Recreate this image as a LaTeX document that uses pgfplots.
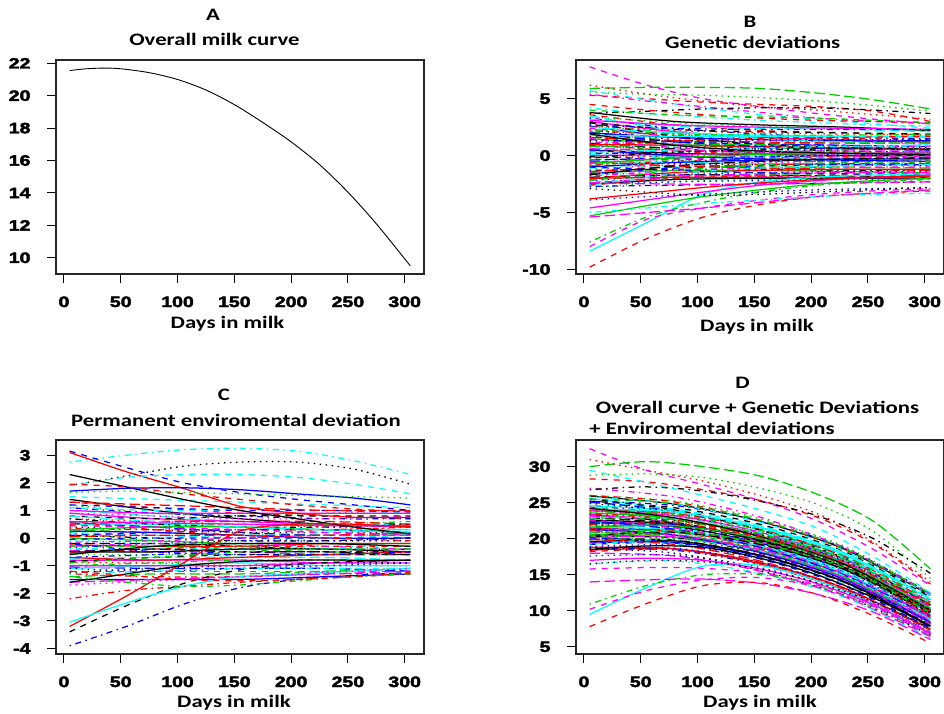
\documentclass[border=0pt]{standalone}
\usepackage{pgfplots}
\pgfplotsset{compat=1.18}
\usepackage{fontspec}
\newfontfamily\ttlfam[FakeStretch=1.3]{Carlito}
\newfontfamily\tckfam[FakeStretch=1.3,FakeBold=3]{Liberation Sans}
\newcommand\titlefont{\ttlfam\bfseries\fontsize{17.5}{20}\selectfont}
\newcommand\tickfont{\tckfam\bfseries\fontsize{15}{15}\selectfont}
\definecolor{Rk}{HTML}{000000}
\definecolor{Rr}{HTML}{FF0000}
\definecolor{Rg}{HTML}{00CD00}
\definecolor{Rb}{HTML}{0000FF}
\definecolor{Rc}{HTML}{00FFFF}
\definecolor{Rm}{HTML}{FF00FF}
\tikzset{
 ls1/.style={solid},
 ls2/.style={dash pattern=on 6pt off 6pt},
 ls3/.style={dash pattern=on 1.5pt off 4.5pt},
 ls4/.style={dash pattern=on 1.5pt off 4.5pt on 6pt off 4.5pt},
 ls5/.style={dash pattern=on 10.5pt off 4.5pt},
}
\pgfplotscreateplotcyclelist{Rlist}{%
Rk,ls1\\Rr,ls2\\Rg,ls3\\Rb,ls4\\Rc,ls5\\Rm,ls1\\%
Rk,ls2\\Rr,ls3\\Rg,ls4\\Rb,ls5\\Rc,ls1\\Rm,ls2\\%
Rk,ls3\\Rr,ls4\\Rg,ls5\\Rb,ls1\\Rc,ls2\\Rm,ls3\\%
Rk,ls4\\Rr,ls5\\Rg,ls1\\Rb,ls2\\Rc,ls3\\Rm,ls4\\%
Rk,ls5\\Rr,ls1\\Rg,ls2\\Rb,ls3\\Rc,ls4\\Rm,ls5\\%
}
% band line (cycle list style), x = 5, 80, 155, 230, 305
\newcommand\Lb[5]{\addplot coordinates {(5,#1)(80,#2)(155,#3)(230,#4)(305,#5)};}
% styled line, x = 5, 80, 155, 230, 305
\newcommand\Lf[7]{\addplot[#1,#2] coordinates {(5,#3)(80,#4)(155,#5)(230,#6)(305,#7)};}
% styled line, x = 5, 55, 105, 155, 205, 255, 305
\newcommand\Ls[9]{\addplot[#1,#2] coordinates {(5,#3)(55,#4)(105,#5)(155,#6)(205,#7)(255,#8)(305,#9)};}
\pgfplotsset{
 Rax/.style={scale only axis, width=368pt, height=214pt,
  xmin=-7, xmax=317, xtick={0,50,100,150,200,250,300},
  xticklabels={0,50,100,150,200,250,300},
  axis line style={line width=1.3pt, black!85},
  tick style={line width=1pt, black},
  major tick length=9pt, tick align=outside,
  xtick pos=bottom, ytick pos=left,
  ticklabel style={font=\tickfont},
  yticklabel style={xshift=-13pt},
  xticklabel style={yshift=-10pt},
  no markers, cycle list name=Rlist,
  every axis plot/.append style={line width=1.25pt, smooth}},
}
\begin{document}
\begin{tikzpicture}
\useasboundingbox (0,0) rectangle (944pt,-713pt);
% ---------------- A ----------------
\begin{axis}[Rax, at={(56pt,-274pt)}, anchor=south west,
  ymin=9.0, ymax=22.2, ytick={10,12,14,16,18,20,22},
  yticklabels={10,12,14,16,18,20,22}]
\addplot[black, solid, line width=0.9pt] coordinates {(5,21.55)(20,21.66)(35,21.7)(50,21.66)(75,21.42)(100,21.0)(125,20.35)(150,19.45)(175,18.35)(200,17.15)(225,15.75)(250,14.05)(275,12.1)(305,9.5)};
\end{axis}
% ---------------- B ----------------
\begin{axis}[Rax, at={(576pt,-274pt)}, anchor=south west,
  ymin=-10.4, ymax=8.4, ytick={-10,-5,0,5},
  yticklabels={-10,-5,0,5}]
\Lb{3.8}{3.0}{2.7}{2.5}{2.2}
\Lb{3.6}{2.7}{2.2}{2.0}{1.8}
\Lb{3.4}{2.9}{2.6}{2.4}{2.2}
\Lb{3.3}{2.4}{1.9}{1.6}{1.5}
\Lb{3.2}{2.6}{2.4}{2.3}{2.1}
\Lb{3.0}{2.1}{1.6}{1.4}{1.2}
\Lb{2.9}{2.3}{2.1}{2.0}{1.9}
\Lb{2.8}{1.9}{1.5}{1.3}{1.1}
\Lb{2.7}{2.0}{1.7}{1.6}{1.6}
\Lb{2.6}{1.6}{1.1}{0.9}{0.8}
\Lb{2.5}{2.0}{1.8}{1.7}{1.7}
\Lb{2.4}{1.7}{1.4}{1.3}{1.2}
\Lb{2.3}{1.4}{1.0}{0.8}{0.7}
\Lb{2.2}{1.8}{1.6}{1.5}{1.4}
\Lb{2.1}{1.3}{0.9}{0.7}{0.6}
\Lb{2.0}{1.6}{1.4}{1.3}{1.3}
\Lb{1.9}{1.2}{0.9}{0.8}{0.8}
\Lb{1.8}{1.5}{1.3}{1.2}{1.0}
\Lb{1.7}{1.0}{0.6}{0.4}{0.3}
\Lb{1.6}{1.3}{1.2}{1.1}{1.1}
\Lb{1.5}{1.0}{0.7}{0.6}{0.5}
\Lb{1.4}{1.2}{1.0}{0.9}{0.9}
\Lb{1.3}{0.8}{0.5}{0.3}{0.2}
\Lb{1.2}{1.0}{0.9}{0.9}{0.8}
\Lb{1.1}{0.6}{0.3}{0.2}{0.1}
\Lb{1.0}{0.9}{0.8}{0.7}{0.6}
\Lb{0.9}{0.5}{0.3}{0.2}{0.2}
\Lb{0.8}{0.7}{0.6}{0.6}{0.5}
\Lb{0.7}{0.3}{0.0}{-0.1}{-0.2}
\Lb{0.6}{0.5}{0.4}{0.4}{0.4}
\Lb{0.5}{0.2}{0.1}{0.0}{0.0}
\Lb{0.4}{0.4}{0.3}{0.3}{0.3}
\Lb{0.3}{0.0}{-0.2}{-0.3}{-0.4}
\Lb{0.2}{0.2}{0.2}{0.1}{0.1}
\Lb{0.1}{-0.1}{-0.2}{-0.2}{-0.2}
\Lb{0.0}{0.1}{0.2}{0.2}{0.3}
\Lb{-0.1}{-0.3}{-0.4}{-0.5}{-0.5}
\Lb{-0.2}{0.0}{0.1}{0.1}{0.1}
\Lb{-0.3}{-0.4}{-0.5}{-0.5}{-0.6}
\Lb{-0.4}{-0.2}{-0.1}{0.0}{0.0}
\Lb{-0.5}{-0.6}{-0.7}{-0.8}{-0.8}
\Lb{-0.6}{-0.3}{-0.2}{-0.1}{-0.1}
\Lb{-0.7}{-0.7}{-0.8}{-0.8}{-0.9}
\Lb{-0.8}{-0.5}{-0.3}{-0.3}{-0.2}
\Lb{-0.9}{-0.9}{-1.0}{-1.0}{-1.1}
\Lb{-1.0}{-0.6}{-0.4}{-0.3}{-0.3}
\Lb{-1.1}{-1.0}{-1.1}{-1.2}{-1.2}
\Lb{-1.2}{-0.8}{-0.6}{-0.5}{-0.5}
\Lb{-1.3}{-1.2}{-1.2}{-1.3}{-1.3}
\Lb{-1.4}{-1.0}{-0.8}{-0.7}{-0.7}
\Lb{-1.5}{-1.3}{-1.3}{-1.4}{-1.5}
\Lb{-1.6}{-1.1}{-0.9}{-0.8}{-0.8}
\Lb{-1.7}{-1.5}{-1.5}{-1.6}{-1.6}
\Lb{-1.8}{-1.3}{-1.1}{-1.0}{-1.0}
\Lb{-1.9}{-1.7}{-1.7}{-1.8}{-1.9}
\Lb{-2.0}{-1.5}{-1.3}{-1.2}{-1.2}
\Lb{-2.1}{-1.8}{-1.7}{-1.7}{-1.7}
\Lb{-2.2}{-1.7}{-1.5}{-1.4}{-1.4}
\Lb{-2.3}{-2.0}{-1.9}{-1.9}{-1.9}
\Lb{-2.4}{-1.9}{-1.6}{-1.5}{-1.5}
\Lb{-2.5}{-2.1}{-2.0}{-2.0}{-2.0}
\Lb{-2.6}{-2.0}{-1.8}{-1.7}{-1.6}
\Lb{-2.8}{-2.3}{-2.1}{-2.0}{-1.9}
\Lb{-2.7}{-2.6}{-2.5}{-2.4}{-2.3}
\Lb{3.5}{2.2}{1.5}{1.2}{1.0}
\Lb{3.1}{2.7}{2.5}{2.4}{2.3}
\Lb{2.9}{1.7}{1.0}{0.7}{0.6}
\Lb{2.6}{2.2}{2.0}{1.9}{1.8}
\Lb{2.3}{1.9}{1.8}{1.8}{1.9}
\Lb{2.0}{1.2}{0.8}{0.6}{0.5}
\Lb{1.8}{1.7}{1.7}{1.7}{1.6}
\Lb{1.5}{0.7}{0.3}{0.1}{0.0}
\Lb{1.3}{1.3}{1.4}{1.4}{1.4}
\Lb{1.0}{0.4}{0.1}{-0.1}{-0.2}
\Lb{0.8}{0.9}{1.0}{1.1}{1.1}
\Lb{0.5}{0.0}{-0.3}{-0.4}{-0.5}
\Lb{0.3}{0.5}{0.7}{0.8}{0.9}
\Lb{0.0}{-0.4}{-0.6}{-0.7}{-0.7}
\Lb{-0.2}{0.3}{0.5}{0.6}{0.6}
\Lb{-0.5}{-0.9}{-1.1}{-1.2}{-1.3}
\Lb{-0.7}{-0.2}{0.1}{0.2}{0.2}
\Lb{-1.0}{-1.3}{-1.5}{-1.6}{-1.6}
\Lb{-1.2}{-0.5}{-0.1}{0.1}{0.2}
\Lb{-1.5}{-1.7}{-1.8}{-1.9}{-2.0}
\Lb{-1.7}{-0.9}{-0.5}{-0.3}{-0.2}
\Lb{-2.0}{-1.9}{-1.9}{-1.9}{-2.0}
\Lb{-2.2}{-1.3}{-0.8}{-0.6}{-0.5}
\Lb{-2.5}{-2.3}{-2.2}{-2.1}{-2.0}
\Lb{-2.6}{-1.6}{-1.1}{-0.9}{-0.8}
\Lb{-2.4}{-2.5}{-2.5}{-2.4}{-2.3}
\Lb{1.9}{0.9}{0.4}{0.2}{0.1}
\Lb{0.9}{1.3}{1.5}{1.6}{1.7}
\Lb{-0.9}{-0.1}{0.3}{0.5}{0.6}
\Lb{2.7}{2.4}{2.3}{2.3}{2.3}
\Ls{Rm}{ls2}{7.8}{6.2}{5.0}{4.3}{3.7}{3.2}{2.8}
\Ls{Rg}{ls5}{5.9}{6.0}{6.0}{5.9}{5.5}{4.9}{4.1}
\Ls{Rg}{ls3}{5.6}{5.4}{5.3}{5.1}{4.8}{4.4}{3.9}
\Ls{Rr}{ls3}{6.2}{5.4}{4.8}{4.3}{4.0}{3.6}{3.2}
\Ls{Rr}{ls2}{5.3}{5.0}{4.7}{4.5}{4.3}{3.9}{3.0}
\Ls{Rk}{ls4}{3.7}{3.9}{4.1}{4.2}{4.2}{4.0}{3.7}
\Ls{Rc}{ls2}{5.7}{4.9}{4.2}{3.6}{3.2}{2.8}{2.4}
\Ls{Rm}{ls4}{5.4}{4.8}{4.3}{3.8}{3.3}{3.0}{2.8}
\Ls{Rc}{ls4}{4.2}{3.7}{3.4}{3.1}{2.9}{2.7}{2.6}
\Ls{Rr}{ls2}{4.5}{4.0}{3.6}{3.3}{3.1}{3.0}{2.9}
\Ls{Rg}{ls2}{4.0}{3.7}{3.5}{3.4}{3.3}{3.1}{2.9}
\Ls{Rr}{ls2}{-9.8}{-7.3}{-5.4}{-4.3}{-3.6}{-3.3}{-3.1}
\Ls{Rc}{ls1}{-8.4}{-5.9}{-3.4}{-2.3}{-1.9}{-1.7}{-1.6}
\Ls{Rg}{ls4}{-7.6}{-5.4}{-4.1}{-3.2}{-2.6}{-2.3}{-2.1}
\Ls{Rm}{ls2}{-8.0}{-5.6}{-4.6}{-3.9}{-3.4}{-3.1}{-2.9}
\Ls{Rg}{ls1}{-5.3}{-4.4}{-3.6}{-3.0}{-2.5}{-2.2}{-2.0}
\Ls{Rm}{ls5}{-5.4}{-5.0}{-4.6}{-4.1}{-3.6}{-3.3}{-3.0}
\Ls{Rm}{ls1}{-4.6}{-3.9}{-3.2}{-2.6}{-2.2}{-1.9}{-1.7}
\Ls{Rr}{ls1}{-3.8}{-3.3}{-2.8}{-2.4}{-2.1}{-1.9}{-1.8}
\Ls{Rb}{ls3}{-3.9}{-3.6}{-3.4}{-3.2}{-3.0}{-2.9}{-2.8}
\Ls{Rc}{ls4}{-5.0}{-4.6}{-4.2}{-3.9}{-3.6}{-3.4}{-3.3}
\Ls{Rk}{ls3}{-2.9}{-3.2}{-3.5}{-3.4}{-3.2}{-3.0}{-2.8}
\end{axis}
% ---------------- C ----------------
\begin{axis}[Rax, at={(56pt,-654pt)}, anchor=south west,
  ymin=-4.2, ymax=3.55, ytick={-4,-3,-2,-1,0,1,2,3},
  yticklabels={-4,-3,-2,-1,0,1,2,3}]
\Lb{1.4}{1.0}{0.7}{0.5}{0.4}
\Lb{1.3}{1.1}{0.9}{0.8}{0.7}
\Lb{1.2}{0.9}{0.8}{0.9}{1.0}
\Lb{1.1}{0.9}{0.8}{0.7}{0.7}
\Lb{1.0}{0.8}{0.6}{0.5}{0.5}
\Lb{0.9}{0.7}{0.6}{0.5}{0.4}
\Lb{0.8}{0.7}{0.8}{0.8}{0.8}
\Lb{0.7}{0.6}{0.5}{0.4}{0.3}
\Lb{0.6}{0.5}{0.5}{0.5}{0.6}
\Lb{0.55}{0.4}{0.2}{0.1}{0.1}
\Lb{0.5}{0.5}{0.4}{0.3}{0.3}
\Lb{0.45}{0.4}{0.3}{0.2}{0.1}
\Lb{0.4}{0.3}{0.2}{0.2}{0.2}
\Lb{0.35}{0.3}{0.3}{0.3}{0.4}
\Lb{0.3}{0.2}{0.1}{0.1}{0.1}
\Lb{0.25}{0.2}{0.1}{0.0}{0.0}
\Lb{0.2}{0.1}{0.0}{0.0}{0.1}
\Lb{0.15}{0.1}{0.0}{-0.1}{-0.1}
\Lb{0.1}{0.0}{-0.1}{-0.1}{0.0}
\Lb{0.05}{0.1}{0.1}{0.1}{0.2}
\Lb{0.0}{-0.1}{-0.2}{-0.2}{-0.2}
\Lb{-0.05}{0.0}{0.0}{0.0}{0.0}
\Lb{-0.1}{-0.2}{-0.3}{-0.3}{-0.3}
\Lb{-0.15}{-0.1}{0.0}{0.1}{0.1}
\Lb{-0.2}{-0.2}{-0.3}{-0.4}{-0.4}
\Lb{-0.25}{-0.3}{-0.3}{-0.2}{-0.2}
\Lb{-0.3}{-0.3}{-0.4}{-0.5}{-0.5}
\Lb{-0.35}{-0.2}{-0.1}{-0.1}{-0.1}
\Lb{-0.4}{-0.4}{-0.4}{-0.4}{-0.4}
\Lb{-0.45}{-0.5}{-0.5}{-0.6}{-0.6}
\Lb{-0.5}{-0.5}{-0.4}{-0.4}{-0.5}
\Lb{-0.55}{-0.4}{-0.3}{-0.3}{-0.3}
\Lb{-0.6}{-0.6}{-0.6}{-0.6}{-0.6}
\Lb{-0.7}{-0.6}{-0.5}{-0.5}{-0.5}
\Lb{-0.75}{-0.7}{-0.7}{-0.7}{-0.8}
\Lb{-0.8}{-0.8}{-0.8}{-0.9}{-0.9}
\Lb{-0.85}{-0.7}{-0.6}{-0.6}{-0.6}
\Lb{-0.9}{-0.9}{-1.0}{-1.0}{-1.0}
\Lb{-1.0}{-0.9}{-0.8}{-0.8}{-0.8}
\Lb{-1.05}{-1.1}{-1.1}{-1.1}{-1.2}
\Lb{-1.1}{-1.0}{-0.9}{-1.0}{-1.0}
\Lb{-1.2}{-1.2}{-1.2}{-1.2}{-1.2}
\Lb{-1.25}{-1.1}{-1.0}{-0.9}{-0.9}
\Lb{-1.3}{-1.4}{-1.4}{-1.3}{-1.3}
\Lb{-1.4}{-1.3}{-1.3}{-1.2}{-1.1}
\Lb{-1.5}{-1.5}{-1.5}{-1.4}{-1.3}
\Lb{1.1}{1.0}{1.0}{1.0}{0.9}
\Lb{0.9}{0.8}{0.7}{0.7}{0.8}
\Lb{0.7}{0.5}{0.4}{0.4}{0.5}
\Lb{0.5}{0.6}{0.6}{0.6}{0.5}
\Lb{0.3}{0.4}{0.4}{0.3}{0.2}
\Lb{0.1}{0.2}{0.3}{0.3}{0.2}
\Lb{-0.1}{0.0}{0.1}{0.2}{0.3}
\Lb{-0.3}{-0.2}{-0.2}{-0.3}{-0.4}
\Lb{-0.5}{-0.4}{-0.5}{-0.5}{-0.6}
\Lb{-0.7}{-0.8}{-0.7}{-0.6}{-0.5}
\Lb{-0.9}{-0.7}{-0.5}{-0.4}{-0.4}
\Lb{-1.1}{-1.2}{-1.1}{-1.0}{-0.9}
\Lb{-1.3}{-1.2}{-1.1}{-1.1}{-1.1}
\Lb{-1.6}{-1.5}{-1.4}{-1.3}{-1.2}
\Lb{-0.6}{-0.3}{-0.2}{-0.2}{-0.3}
\Lb{0.6}{0.3}{0.1}{0.0}{-0.1}
\Lb{0.2}{-0.1}{-0.3}{-0.4}{-0.4}
\Lb{-0.2}{-0.5}{-0.6}{-0.6}{-0.5}
\Lb{0.8}{0.6}{0.4}{0.3}{0.2}
\Lb{-1.0}{-1.0}{-1.0}{-0.9}{-0.8}
\Lf{Rm}{ls1}{1.0}{0.9}{0.9}{0.9}{0.9}
\Lf{Rm}{ls1}{0.6}{0.55}{0.5}{0.45}{0.45}
\Lf{Rm}{ls2}{0.45}{0.4}{0.3}{0.2}{0.15}
\Lf{Rb}{ls2}{1.2}{1.1}{1.0}{1.0}{0.95}
\Lf{Rr}{ls5}{1.3}{1.2}{1.1}{1.0}{1.0}
\Lf{Rc}{ls2}{1.5}{1.4}{1.3}{1.2}{1.1}
\Ls{Rc}{ls4}{2.75}{3.0}{3.2}{3.25}{3.15}{2.8}{2.3}
\Ls{Rb}{ls2}{3.15}{2.55}{2.0}{1.65}{1.4}{1.2}{1.0}
\Ls{Rr}{ls1}{3.1}{2.4}{1.8}{1.15}{0.9}{0.75}{0.75}
\Ls{Rk}{ls3}{1.9}{2.25}{2.6}{2.75}{2.75}{2.5}{1.95}
\Ls{Rc}{ls2}{1.9}{2.2}{2.3}{2.3}{2.2}{1.95}{1.6}
\Ls{Rk}{ls1}{2.3}{1.85}{1.4}{1.0}{0.7}{0.4}{0.15}
\Ls{Rb}{ls1}{1.7}{1.8}{1.82}{1.75}{1.6}{1.45}{1.2}
\Ls{Rr}{ls2}{1.95}{1.85}{1.6}{1.4}{1.2}{1.05}{0.95}
\Ls{Rg}{ls3}{1.65}{1.7}{1.65}{1.6}{1.55}{1.5}{1.45}
\Ls{Rr}{ls1}{-3.2}{-2.1}{-0.9}{0.25}{0.5}{0.5}{0.4}
\Ls{Rk}{ls2}{-3.4}{-2.45}{-1.65}{-1.15}{-0.95}{-0.85}{-0.8}
\Ls{Rc}{ls1}{-3.05}{-2.35}{-1.75}{-1.4}{-1.3}{-1.2}{-1.1}
\Ls{Rb}{ls4}{-3.9}{-3.2}{-2.4}{-1.8}{-1.5}{-1.35}{-1.25}
\Ls{Rr}{ls4}{-2.2}{-1.9}{-1.75}{-1.6}{-1.5}{-1.4}{-1.3}
\Ls{Rk}{ls1}{-1.6}{-1.3}{-1.0}{-0.85}{-0.8}{-0.8}{-0.8}
\Ls{Rm}{ls3}{-1.7}{-1.6}{-1.5}{-1.4}{-1.3}{-1.2}{-1.1}
\Ls{Rg}{ls4}{-1.4}{-1.6}{-1.75}{-1.7}{-1.55}{-1.4}{-1.3}
\Ls{Rr}{ls2}{-1.2}{-1.35}{-1.5}{-1.55}{-1.5}{-1.4}{-1.25}
\end{axis}
% ---------------- D ----------------
\begin{axis}[Rax, at={(576pt,-654pt)}, anchor=south west,
  ymin=4.0, ymax=33.7, ytick={5,10,15,20,25,30},
  yticklabels={5,10,15,20,25,30}]
\Lb{25.9}{24.8}{22.4}{18.5}{12.1}
\Lb{24.4}{23.2}{20.6}{16.7}{10.7}
\Lb{26.0}{25.2}{22.8}{18.9}{12.4}
\Lb{24.6}{23.4}{20.8}{16.8}{10.8}
\Lb{25.0}{24.1}{21.8}{18.0}{11.7}
\Lb{23.4}{22.2}{19.6}{15.7}{9.9}
\Lb{25.2}{24.3}{22.0}{18.2}{11.9}
\Lb{23.9}{22.7}{20.2}{16.3}{10.3}
\Lb{24.3}{23.3}{20.9}{17.1}{11.1}
\Lb{25.1}{23.8}{21.2}{17.3}{10.9}
\Lb{24.6}{23.8}{21.5}{17.7}{11.6}
\Lb{23.2}{22.2}{19.8}{16.0}{10.1}
\Lb{24.9}{23.7}{21.2}{17.3}{10.9}
\Lb{23.5}{22.8}{20.5}{16.7}{10.7}
\Lb{23.9}{22.8}{20.3}{16.4}{10.2}
\Lb{22.4}{21.7}{19.4}{15.6}{10.0}
\Lb{24.2}{23.2}{20.8}{17.0}{10.8}
\Lb{22.9}{22.3}{20.0}{16.2}{10.2}
\Lb{23.3}{22.3}{19.8}{15.9}{9.8}
\Lb{24.1}{23.5}{21.3}{17.5}{11.2}
\Lb{23.6}{22.8}{20.4}{16.6}{10.4}
\Lb{22.2}{21.7}{19.4}{15.6}{9.8}
\Lb{23.9}{23.1}{20.7}{16.8}{10.4}
\Lb{22.5}{22.0}{19.8}{16.1}{10.1}
\Lb{22.9}{22.1}{19.7}{15.9}{9.7}
\Lb{21.4}{21.0}{18.8}{15.0}{9.3}
\Lb{23.2}{22.5}{20.2}{16.4}{10.2}
\Lb{21.9}{21.5}{19.3}{15.6}{9.7}
\Lb{22.3}{21.6}{19.2}{15.4}{9.3}
\Lb{23.1}{22.7}{20.5}{16.8}{10.5}
\Lb{22.6}{22.0}{19.8}{16.0}{9.9}
\Lb{21.2}{20.9}{18.7}{15.0}{9.2}
\Lb{22.9}{22.3}{20.0}{16.2}{9.8}
\Lb{21.5}{21.2}{19.1}{15.3}{9.4}
\Lb{21.9}{21.4}{19.2}{15.5}{9.4}
\Lb{20.4}{20.2}{18.2}{14.5}{9.0}
\Lb{22.2}{21.7}{19.5}{15.7}{9.5}
\Lb{20.9}{20.8}{18.8}{15.1}{9.3}
\Lb{21.3}{20.9}{18.7}{15.0}{8.9}
\Lb{22.1}{22.0}{20.0}{16.4}{10.1}
\Lb{21.6}{21.2}{19.0}{15.2}{9.1}
\Lb{20.2}{20.2}{18.2}{14.6}{8.8}
\Lb{21.9}{21.6}{19.4}{15.7}{9.3}
\Lb{20.5}{20.5}{18.6}{14.9}{9.1}
\Lb{20.9}{20.6}{18.4}{14.7}{8.5}
\Lb{19.4}{19.5}{17.6}{14.0}{8.4}
\Lb{21.2}{21.0}{18.8}{15.0}{8.8}
\Lb{19.9}{20.0}{18.1}{14.5}{8.7}
\Lb{20.3}{20.1}{18.0}{14.2}{8.2}
\Lb{21.1}{21.2}{19.3}{15.7}{9.4}
\Lb{20.6}{20.5}{18.4}{14.6}{8.4}
\Lb{19.2}{19.4}{17.5}{13.9}{8.1}
\Lb{20.9}{20.8}{18.7}{14.9}{8.6}
\Lb{19.5}{19.7}{17.8}{14.2}{8.3}
\Lb{19.9}{19.8}{17.7}{13.9}{7.7}
\Lb{18.4}{18.6}{16.7}{13.1}{7.5}
\Lb{20.2}{20.2}{18.2}{14.5}{8.3}
\Lb{18.9}{19.1}{17.2}{13.6}{7.8}
\Lb{19.3}{19.3}{17.3}{13.6}{7.6}
\Lb{20.1}{20.3}{18.5}{14.9}{8.6}
\Lb{19.6}{19.7}{17.7}{14.0}{7.9}
\Lb{18.2}{18.5}{16.6}{13.0}{7.3}
\Lb{19.8}{20.0}{18.1}{14.5}{8.3}
\Lb{18.6}{18.4}{16.4}{12.8}{7.0}
\Lb{25.6}{24.0}{21.2}{17.2}{10.9}
\Lb{23.9}{23.2}{20.9}{17.1}{11.2}
\Lb{25.5}{24.0}{21.2}{17.2}{10.8}
\Lb{23.9}{23.2}{20.9}{17.1}{11.1}
\Lb{24.1}{23.4}{21.2}{17.5}{11.5}
\Lb{22.4}{21.3}{18.8}{14.9}{9.2}
\Lb{24.1}{23.7}{21.6}{17.9}{11.6}
\Lb{22.6}{21.5}{19.0}{15.1}{9.2}
\Lb{22.9}{22.6}{20.6}{16.9}{10.9}
\Lb{23.5}{22.6}{20.2}{16.3}{9.9}
\Lb{22.9}{22.7}{20.7}{17.1}{11.0}
\Lb{21.3}{20.5}{18.1}{14.3}{8.4}
\Lb{22.9}{22.8}{20.9}{17.3}{11.1}
\Lb{21.3}{20.6}{18.3}{14.5}{8.6}
\Lb{21.6}{21.8}{19.9}{16.3}{10.2}
\Lb{19.9}{19.2}{16.9}{13.1}{7.4}
\Lb{21.6}{21.8}{20.0}{16.4}{10.2}
\Lb{20.1}{19.5}{17.2}{13.4}{7.6}
\Lb{20.4}{20.8}{19.1}{15.6}{9.7}
\Lb{21.0}{20.5}{18.3}{14.5}{8.1}
\Lb{20.4}{20.9}{19.2}{15.7}{9.7}
\Lb{18.8}{18.6}{16.5}{12.8}{6.9}
\Lb{20.4}{21.0}{19.4}{15.9}{9.7}
\Lb{18.8}{18.7}{16.7}{13.1}{7.3}
\Lb{19.2}{19.9}{18.3}{14.8}{8.8}
\Lb{18.0}{17.6}{15.5}{11.9}{6.4}
\Lb{24.2}{22.9}{20.3}{16.4}{10.1}
\Lb{22.0}{22.1}{20.2}{16.6}{10.9}
\Lb{20.7}{21.2}{19.5}{16.0}{10.1}
\Lb{25.2}{24.6}{22.4}{18.7}{12.4}
\Lf{Rm}{ls4}{27.0}{25.8}{23.0}{18.7}{12.3}
\Lf{Rc}{ls4}{25.8}{24.8}{22.3}{18.3}{12.1}
\Lf{Rr}{ls2}{26.0}{25.1}{22.5}{18.5}{12.4}
\Lf{Rg}{ls2}{25.5}{24.9}{22.6}{18.6}{12.4}
\Lf{Rb}{ls3}{17.6}{17.7}{16.0}{12.5}{6.7}
\Lf{Rc}{ls4}{16.5}{16.9}{15.2}{11.8}{6.2}
\Lf{Rk}{ls3}{18.6}{18.0}{15.6}{12.1}{6.6}
\Ls{Rm}{ls2}{32.5}{29.5}{27.5}{25.3}{22.5}{18.5}{13.5}
\Ls{Rg}{ls5}{30.0}{30.7}{30.0}{28.7}{26.2}{22.4}{15.8}
\Ls{Rg}{ls3}{28.8}{29.0}{28.5}{27.0}{24.8}{21.0}{14.5}
\Ls{Rr}{ls2}{28.3}{27.9}{26.8}{25.3}{23.0}{19.3}{13.7}
\Ls{Rk}{ls4}{26.8}{27.2}{26.6}{25.2}{23.2}{20.0}{15.2}
\Ls{Rc}{ls2}{29.5}{27.8}{26.0}{24.0}{21.5}{17.5}{12.5}
\Ls{Rr}{ls3}{31.0}{29.5}{28.0}{26.0}{23.5}{19.5}{14.0}
\Ls{Rr}{ls2}{7.8}{11.0}{13.5}{13.9}{12.3}{9.3}{5.5}
\Ls{Rc}{ls1}{9.5}{13.2}{16.2}{16.3}{14.2}{11.0}{6.8}
\Ls{Rg}{ls4}{10.9}{13.5}{15.0}{15.0}{13.5}{10.5}{6.5}
\Ls{Rm}{ls2}{10.2}{12.8}{14.3}{14.6}{13.3}{10.6}{6.5}
\Ls{Rm}{ls5}{14.0}{14.3}{14.4}{13.8}{12.3}{9.8}{6.0}
\Ls{Rm}{ls2}{15.8}{16.0}{15.9}{15.2}{13.6}{11.0}{7.0}
\Ls{Rm}{ls1}{17.0}{17.3}{17.0}{15.8}{13.8}{10.8}{6.8}
\Ls{Rk}{ls3}{16.5}{17.0}{16.8}{15.8}{13.9}{11.2}{7.6}
\Ls{Rk}{ls1}{18.5}{19.0}{18.8}{17.3}{15.0}{11.8}{7.9}
\end{axis}
% ---------------- titles ----------------
\node[font=\titlefont] at (213pt,-15pt) {A};
\node[font=\titlefont] at (214.5pt,-39pt) {Overall milk curve};
\node[font=\titlefont] at (227.5pt,-324pt) {Days in milk};
\node[font=\titlefont] at (750pt,-22pt) {B};
\node[font=\titlefont] at (752.7pt,-42pt) {Genetic deviations};
\node[font=\titlefont] at (757pt,-327pt) {Days in milk};
\node[font=\titlefont] at (224pt,-395pt) {C};
\node[font=\titlefont] at (236pt,-420pt) {Permanent enviromental deviation};
\node[font=\titlefont] at (234pt,-703pt) {Days in milk};
\node[font=\titlefont] at (742.5pt,-383pt) {D};
\node[font=\titlefont] at (757.5pt,-407.7pt) {Overall curve + Genetic Deviations};
\node[font=\titlefont] at (712pt,-428.3pt) {+ Enviromental deviations};
\node[font=\titlefont] at (760pt,-703pt) {Days in milk};
\end{tikzpicture}
\end{document}
